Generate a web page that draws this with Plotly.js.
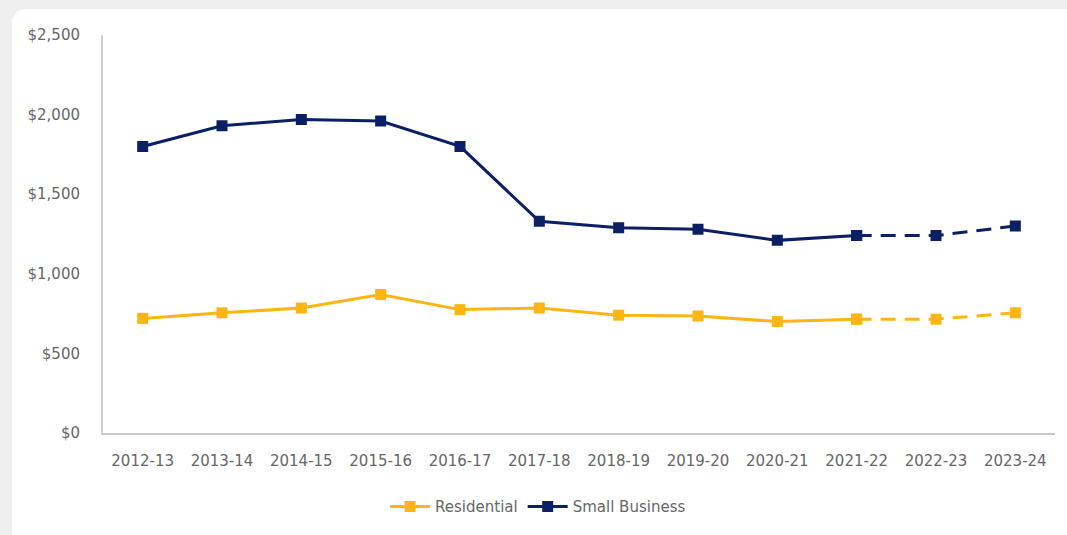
<!DOCTYPE html>
<html>
<head>
<meta charset="utf-8">
<script src="https://cdn.plot.ly/plotly-3.0.1.min.js"></script>
<style>
  html, body { margin: 0; padding: 0; background: #efefef; width: 1067px; height: 535px; overflow: hidden; }
  #chart { position: absolute; left: 12px; top: 9px; width: 1055px; height: 526px; background: #fff; border-top-left-radius: 14px; overflow: hidden; }
</style>
</head>
<body>
<div id="chart"></div>
<script>
const categories = ["2012-13","2013-14","2014-15","2015-16","2016-17","2017-18","2018-19","2019-20","2020-21","2021-22","2022-23","2023-24"];
const residential = [720, 755, 785, 870, 775, 785, 740, 735, 700, 715, 715, 755];
const smallBusiness = [1800, 1930, 1970, 1960, 1800, 1330, 1290, 1280, 1210, 1240, 1240, 1300];
const actualCount = 10; // 2012-13 .. 2021-22 solid, rest dashed projections

const yellow = "#FDB515";
const navy = "#0B1F65";
const dashPattern = "15px,9px";

function seg(arr, a, b) { return arr.slice(a, b); }

const traces = [
  {
    x: seg(categories, 0, actualCount), y: seg(residential, 0, actualCount),
    name: "Residential", mode: "lines+markers", type: "scatter",
    line: { color: yellow, width: 3 }, marker: { symbol: "square", size: 11, color: yellow },
    legendgroup: "res"
  },
  {
    x: seg(categories, actualCount - 1, categories.length), y: seg(residential, actualCount - 1, categories.length),
    name: "Residential", mode: "lines+markers", type: "scatter", showlegend: false,
    line: { color: yellow, width: 3, dash: dashPattern }, marker: { symbol: "square", size: 11, color: yellow },
    legendgroup: "res"
  },
  {
    x: seg(categories, 0, actualCount), y: seg(smallBusiness, 0, actualCount),
    name: "Small Business", mode: "lines+markers", type: "scatter",
    line: { color: navy, width: 3 }, marker: { symbol: "square", size: 11, color: navy },
    legendgroup: "sb"
  },
  {
    x: seg(categories, actualCount - 1, categories.length), y: seg(smallBusiness, actualCount - 1, categories.length),
    name: "Small Business", mode: "lines+markers", type: "scatter", showlegend: false,
    line: { color: navy, width: 3, dash: dashPattern }, marker: { symbol: "square", size: 11, color: navy },
    legendgroup: "sb"
  }
];

const layout = {
  width: 1055, height: 526,
  margin: { l: 91, r: 12, t: 26, b: 99 },
  paper_bgcolor: "#ffffff", plot_bgcolor: "#ffffff",
  font: { family: "'DejaVu Sans', sans-serif", size: 15, color: "#666666" },
  showlegend: true,
  legend: { orientation: "h", x: 0.457, xanchor: "center", y: -0.185, yanchor: "middle", itemwidth: 40, font: { size: 15, color: "#666666" }, traceorder: "normal" },
  xaxis: {
    type: "category", categoryorder: "array", categoryarray: categories,
    range: [-0.5, 11.5], showgrid: false, zeroline: false,
    showline: true, linecolor: "#c8c8c8", linewidth: 2,
    ticks: "", tickfont: { size: 15, color: "#666666" }, ticklabelstandoff: 13
  },
  yaxis: {
    range: [0, 2500], dtick: 500, tick0: 0, tickprefix: "$", tickformat: ",d",
    showgrid: false, zeroline: false, showline: true, linecolor: "#d0d0d0", linewidth: 2,
    ticks: "", tickfont: { size: 15, color: "#666666" }, ticklabelstandoff: 18
  }
};

Plotly.newPlot("chart", traces, layout, { displayModeBar: false, staticPlot: true });
</script>
</body>
</html>
